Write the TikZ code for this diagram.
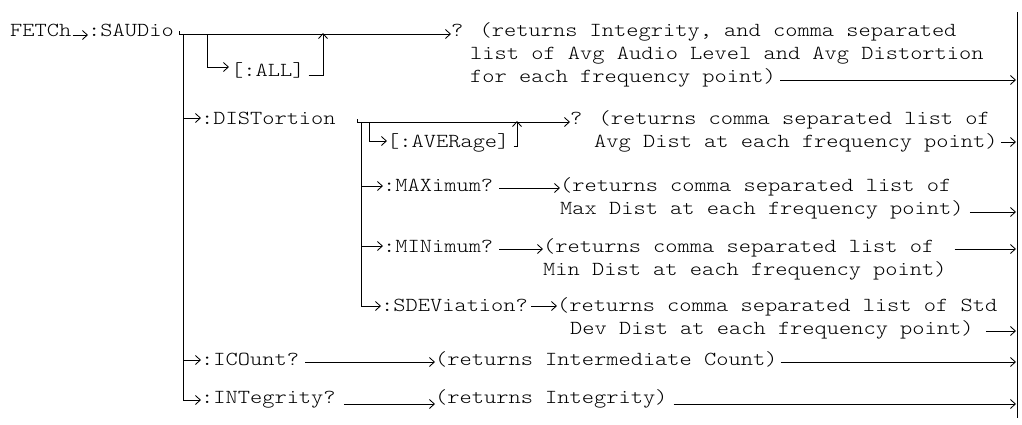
\documentclass[tikz,border=0pt]{standalone}
\usepackage{fontspec}
\newfontfamily\cour[Extension=.otf,FakeStretch=1.17]{lmmonolt10-regular}
\usetikzlibrary{arrows.meta}
\begin{document}
\begin{tikzpicture}[x=1pt,y=-1pt,
  txt/.style={font=\cour\fontsize{19.9}{23}\selectfont, inner sep=0pt, anchor=base west},
  ln/.style={line width=0.85pt},
  arr/.style={ln,-{Straight Barb[length=5pt,width=9pt,line width=0.85pt]}}]
\useasboundingbox (0,0) rectangle (1022,424);

% ---- texts
\node[txt] (fetch)  at (10,36)  {FETCh};
\node[txt] (saudio) at (88,36)  {:SAUDio};
\node[txt] (q1a)    at (451,36) {? (returns Integrity, and comma separated};
\node[txt] (q1b)    at (470,59) {list of Avg Audio Level and Avg Distortion};
\node[txt] (q1c)    at (470,82) {for each frequency point)};
\node[txt] (all)    at (231,76) {[:ALL]};
\node[txt] (dist)   at (201,124) {:DISTortion};
\node[txt] (q2a)    at (570,124) {? (returns comma separated list of};
\node[txt] (q2b)    at (594,147) {Avg Dist at each frequency point)};
\node[txt] (aver)   at (387,147) {[:AVERage]};
\node[txt] (max)    at (383,191) {:MAXimum?};
\node[txt] (q3a)    at (560,191) {(returns comma separated list of};
\node[txt] (q3b)    at (560,214) {Max Dist at each frequency point)};
\node[txt] (min)    at (383,252) {:MINimum?};
\node[txt] (q4a)    at (543,252) {(returns comma separated list of};
\node[txt] (q4b)    at (543,275) {Min Dist at each frequency point)};
\node[txt] (sdev)   at (381,311) {:SDEViation?};
\node[txt] (q5a)    at (557,311) {(returns comma separated list of Std};
\node[txt] (q5b)    at (570,334) {Dev Dist at each frequency point)};
\node[txt] (ico)    at (201,365) {:ICOunt?};
\node[txt] (q6)     at (435,365) {(returns Intermediate Count)};
\node[txt] (int)    at (201,403) {:INTegrity?};
\node[txt] (q7)     at (435,403) {(returns Integrity)};

% ---- coordinates
\coordinate (bartop) at (1017,12);
\coordinate (barbot) at (1017,418);
\coordinate (m0) at (179,34);
\coordinate (mv) at (183,34);
\coordinate (av) at (207,34);
\coordinate (aup) at (323,34);
\coordinate (d0) at (357,122);
\coordinate (dv) at (361,122);
\coordinate (ev) at (369,122);
\coordinate (eup) at (517,122);

% ---- bar
\draw[ln] (bartop) -- (barbot);

% ---- FETCh -> :SAUDio
\draw[arr] (fetch.base east) ++(1,-1) -- (saudio.base west |- 0,35);

% ---- main line
\draw[ln] (m0) ++(0,-3) -- (m0);
\draw[arr] (m0) -- (q1a.base west |- 0,34);
\draw[arr] (q1c.base east) ++(4,-2) -- (1016,80);

% ---- [:ALL]
\draw[arr] (av) |- ([xshift=-2pt]all.west |- 0,67);
\draw[arr] (all.base east) ++(4,-1) -| ([yshift=1pt]aup);

% ---- main vertical
\draw[ln] (mv) -- (183,400);
\draw[arr] (183,118) -- (dist.west |- 0,118);
\draw[arr] (183,360) -- (ico.west |- 0,360);
\draw[arr] (183,400) -- (int.west |- 0,400);

% ---- :DISTortion
\draw[ln] (357,119) -- (d0);
\draw[arr] (d0) -- (q2a.base west |- 0,122);
\draw[arr] (q2b.base east) ++(3,-5) -- (1016,142);

% ---- [:AVERage]
\draw[arr] (ev) |- (aver.west |- 0,141);
\draw[arr] (aver.base east) ++(4,-1) -| ([yshift=1pt]eup);

% ---- sub vertical
\draw[ln] (dv) -- (361,306);
\draw[arr] (361,186) -- (max.west |- 0,186);
\draw[arr] (361,246) -- (min.west |- 0,246);
\draw[arr] (361,306) -- (sdev.west |- 0,306);

% ---- :MAXimum?
\draw[arr] (max.base east) ++(6,-3) -- (q3a.base west |- 0,188);
\draw[arr] (q3b.base east) ++(6,-2) -- (1016,212);

% ---- :MINimum?
\draw[arr] (min.base east) ++(6,-3) -- (q4a.base west |- 0,249);
\draw[arr] (q4a.base east) ++(20,-3) -- (1016,249);

% ---- :SDEViation?
\draw[arr] (sdev.base east) ++(3,-5) -- (q5a.base west |- 0,306);
\draw[arr] (q5b.base east) ++(12,-3) -- (1016,331);

% ---- :ICOunt?
\draw[arr] (ico.base east) ++(6,-3) -- (q6.base west |- 0,362);
\draw[arr] (q6.base east) ++(3,-3) -- (1016,362);

% ---- :INTegrity?
\draw[arr] (int.base east) ++(8,1) -- (q7.base west |- 0,404);
\draw[arr] (q7.base east) ++(6,1) -- (1016,404);
\end{tikzpicture}
\end{document}
